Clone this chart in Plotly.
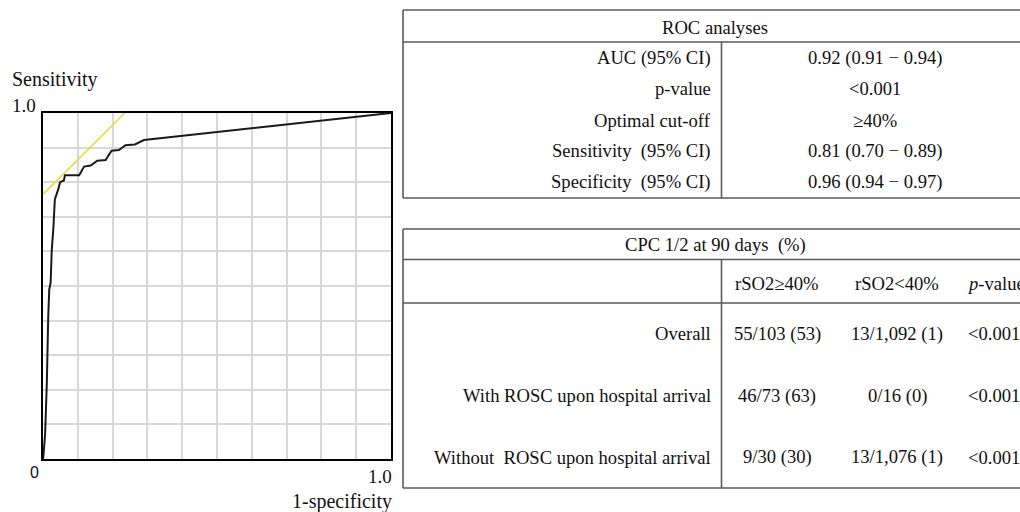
import plotly.graph_objects as go

# ---------------- data ----------------
roc_fpr = [0.0, 0.001, 0.006, 0.011, 0.015, 0.018, 0.022, 0.025, 0.030, 0.034, 0.044, 0.049,
           0.060, 0.063, 0.104, 0.118, 0.137, 0.156, 0.180, 0.197, 0.218, 0.237, 0.264, 0.290, 1.0]
roc_tpr = [0.0, 0.007, 0.07, 0.22, 0.41, 0.49, 0.51, 0.60, 0.67, 0.75, 0.78, 0.80,
           0.805, 0.82, 0.82, 0.845, 0.848, 0.862, 0.864, 0.891, 0.893, 0.907, 0.909, 0.922, 1.0]
tangent_x = [0.0, 0.235]
tangent_y = [0.765, 1.0]

roc_title = "ROC analyses"
roc_labels = ["AUC (95% CI)", "p-value", "Optimal cut-off",
              "Sensitivity \u00a0(95% CI)", "Specificity \u00a0(95% CI)"]
roc_values = ["0.92 (0.91 − 0.94)", "<0.001", "≥40%",
              "0.81 (0.70 − 0.89)", "0.96 (0.94 − 0.97)"]

cpc_title = "CPC 1/2 at 90 days \u00a0(%)"
cpc_cols = ["rSO2≥40%", "rSO2<40%", "<i>p</i>-value"]
cpc_rows = ["Overall", "With ROSC upon hospital arrival",
            "Without \u00a0ROSC upon hospital arrival"]
cpc_high = ["55/103 (53)", "46/73 (63)", "9/30 (30)"]
cpc_low = ["13/1,092 (1)", "0/16 (0)", "13/1,076 (1)"]
cpc_p = ["<0.001", "<0.001", "<0.001"]

# ---------------- layout helpers ----------------
W, H = 1020, 512
SERIF = "Liberation Serif, Times New Roman, serif"
SANS = "Liberation Sans, Arial, sans-serif"
LINE = "#5a5a5a"
TFS = 18.6


def px(x):
    return x / W


def py(y):
    return 1 - y / H


fig = go.Figure()
fig.add_trace(go.Scatter(x=tangent_x, y=tangent_y, mode="lines",
                         line=dict(color="#e6dc3a", width=1.6), cliponaxis=False,
                         hoverinfo="skip", showlegend=False))
fig.add_trace(go.Scatter(x=roc_fpr, y=roc_tpr, mode="lines",
                         line=dict(color="#1a1a1a", width=2), cliponaxis=False,
                         showlegend=False))

axis_common = dict(range=[0, 1], dtick=0.1, showticklabels=False, ticks="",
                   showgrid=True, gridcolor="#d8d8d8", gridwidth=2,
                   zeroline=False, showline=True, linecolor="black", linewidth=2,
                   mirror=True, fixedrange=True)
fig.update_layout(
    width=W, height=H, margin=dict(l=0, r=0, t=0, b=0),
    paper_bgcolor="white", plot_bgcolor="white",
    xaxis=dict(domain=[px(43), px(391)], **axis_common),
    yaxis=dict(domain=[py(459), py(113)], **axis_common),
    showlegend=False,
)

ann = []


def text(x, y, s, size=TFS, xanchor="center", family=SERIF, color="#111"):
    ann.append(dict(x=px(x), y=py(y), xref="paper", yref="paper", text=s,
                    showarrow=False, xanchor=xanchor, yanchor="middle",
                    font=dict(family=family, size=size, color=color)))


# ROC plot labels
text(10, 79, "Sensitivity", size=20, xanchor="left")
text(10, 105, "1.0", size=19, xanchor="left")
text(34, 472, "0", size=16, family=SANS)
text(394, 476, "1.0", size=19, xanchor="right")
text(394, 501, "1-specificity", size=20, xanchor="right")

shapes = []


def hline(x0, x1, y, w=1.6):
    shapes.append(dict(type="line", xref="paper", yref="paper", x0=px(x0), x1=px(x1),
                       y0=py(y), y1=py(y), line=dict(color=LINE, width=w)))


def vline(x, y0, y1, w=1.6):
    shapes.append(dict(type="line", xref="paper", yref="paper", x0=px(x), x1=px(x),
                       y0=py(y0), y1=py(y1), line=dict(color=LINE, width=w)))


# ---------------- table 1 ----------------
T1_L, T1_R, T1_TOP, T1_HDR, T1_BOT = 403, 1030, 10, 42, 198
DIV = 721.5
hline(T1_L, T1_R, T1_TOP)
hline(T1_L, T1_R, T1_HDR)
hline(T1_L, T1_R, T1_BOT)
vline(T1_L, T1_TOP, T1_BOT)
vline(DIV, T1_HDR, T1_BOT)
text(715, 27, roc_title)
row_h = (T1_BOT - T1_HDR) / len(roc_labels)
for i, (lab, val) in enumerate(zip(roc_labels, roc_values)):
    yc = T1_HDR + row_h * (i + 0.5)
    text(713, yc, lab, xanchor="right")
    text(875, yc, val)

# ---------------- table 2 ----------------
T2_TOP, T2_HDR, T2_SUB, T2_BOT = 229, 259.5, 303, 488
hline(T1_L, T1_R, T2_TOP)
hline(T1_L, T1_R, T2_HDR)
hline(T1_L, T1_R, T2_SUB)
hline(T1_L, T1_R, T2_BOT)
vline(T1_L, T2_TOP, T2_BOT)
vline(DIV, T2_HDR, T2_BOT)
text(715, 245, cpc_title)
col_x = [777, 897, 965]
col_anchor = ["center", "center", "left"]
for cx, ca, c in zip(col_x, col_anchor, cpc_cols):
    text(cx, 283, c, xanchor=ca)
row_h2 = (T2_BOT - T2_SUB) / len(cpc_rows)
for i, lab in enumerate(cpc_rows):
    yc = T2_SUB + row_h2 * (i + 0.5)
    text(713, yc, lab, xanchor="right")
    text(col_x[0], yc, cpc_high[i])
    text(col_x[1], yc, cpc_low[i])
    text(col_x[2] + 1, yc, cpc_p[i], xanchor="left")

fig.update_layout(annotations=ann, shapes=shapes)
fig.write_html(
    "out.html",
    config={"displayModeBar": False},
    post_script="document.body.style.margin='0';document.body.style.overflow='hidden';",
)
